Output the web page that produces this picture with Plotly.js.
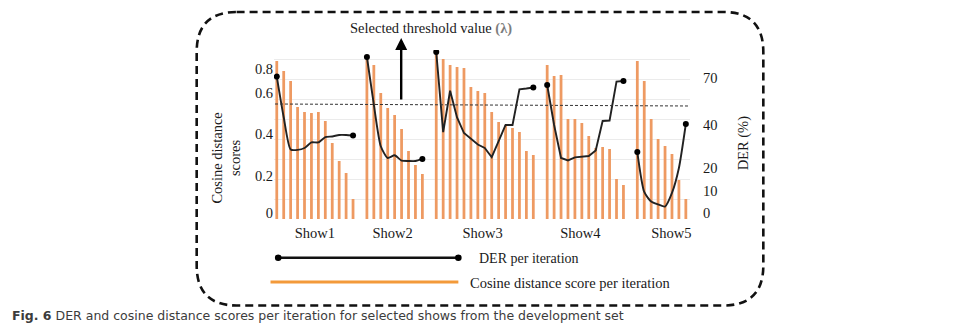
<!DOCTYPE html>
<html>
<head>
<meta charset="utf-8">
<script src="https://cdn.plot.ly/plotly-3.0.1.min.js"></script>
<style>html,body{margin:0;padding:0;background:#fff;}#chart{width:965px;height:324px;}</style>
</head>
<body>
<div id="chart"></div>
<script>
// ---------- data ----------
const showNames = ['Show1', 'Show2', 'Show3', 'Show4', 'Show5'];

// cosine distance score per iteration (bars)
const cosShow1 = [0.79, 0.74, 0.69, 0.56, 0.535, 0.53, 0.535, 0.49, 0.38, 0.29, 0.23, 0.10];
const cosShow2 = [0.80, 0.77, 0.63, 0.555, 0.52, 0.45, 0.34, 0.27, 0.225];
const cosShow3 = [0.825, 0.80, 0.77, 0.76, 0.755, 0.66, 0.64, 0.63, 0.535, 0.485, 0.47, 0.455, 0.435, 0.34, 0.32];
const cosShow4 = [0.77, 0.715, 0.72, 0.50, 0.50, 0.48, 0.415, 0.355, 0.36, 0.35, 0.20, 0.17];
const cosShow5 = [0.79, 0.69, 0.50, 0.40, 0.365, 0.325, 0.195, 0.10];

// DER (%) per iteration (lines)
const derShow1 = [70.9, 49.7, 32.9, 32.7, 33.7, 36.6, 36.6, 39.4, 39.7, 40.5, 40.5, 40.2];
const derShow2 = [81.1, 56.3, 34.6, 28.5, 29.9, 27.1, 26.9, 26.9, 28.0];
const derShow3 = [83.7, 42.0, 63.5, 49.6, 41.5, 38.4, 35.5, 33.7, 28.9, 37.3, 45.7, 45.7, 64.3, 64.7, 65.2];
const derShow4 = [66.5, 45.7, 28.5, 27.2, 28.8, 29.3, 29.5, 32.4, 47.8, 48.0, 68.3, 68.6];
const derShow5 = [31.6, 10.8, 5.8, 4.3, 3.2, 10.3, 23.3, 46.2];

const thresholdValue = 0.57;   // selected threshold (lambda), on the cosine axis

// tick labels
const leftTickText  = ['0', '0.2', '0.4', '0.6', '0.8'];
const leftTickVals  = [0.0285, 0.215, 0.4235, 0.6285, 0.75];
const rightTickText = ['0', '10', '20', '40', '70'];
const rightTickVals = [0, 11.3, 23.1, 45.7, 70];
const showTickVals  = [5.5, 16.7, 29.7, 43.8, 56.9];

// ---------- layout helpers ----------
const W = 965, H = 324;
const ml = 273.5, mr = 274.5, mt = 50, mb = 105;
const pw = W - ml - mr, ph = H - mt - mb;
const px = X => (X - ml) / pw;
const py = Y => (H - mb - Y) / ph;

const cosSeries = [cosShow1, cosShow2, cosShow3, cosShow4, cosShow5];
const derSeries = [derShow1, derShow2, derShow3, derShow4, derShow5];
const lineShapes = ['spline', 'spline', 'linear', 'linear', 'spline'];

const serif = 'Liberation Serif, Times New Roman, serif';
const barColor = '#EE9A62';
const lineColor = '#222';

// slot positions: one empty slot between shows
const slots = [];
let start = 0;
cosSeries.forEach(s => { slots.push(s.map((_, i) => start + i)); start += s.length + 1; });

const traces = [];
traces.push({
  type: 'bar',
  x: [].concat(...slots),
  y: [].concat(...cosSeries),
  width: 0.4,
  marker: {color: barColor, line: {width: 0}},
  yaxis: 'y',
  showlegend: false,
  hoverinfo: 'skip'
});
derSeries.forEach((d, k) => {
  traces.push({
    type: 'scatter',
    mode: 'lines+markers',
    x: slots[k],
    y: d,
    yaxis: 'y2',
    line: {color: lineColor, width: 1.9, shape: lineShapes[k], smoothing: 0.6},
    marker: {color: '#000', opacity: 1, line: {width: 0},
             size: d.map((_, i) => (i === 0 || i === d.length - 1) ? 6 : 0)},
    showlegend: false,
    hoverinfo: 'skip'
  });
});

// rounded dashed frame
const L = 196, R = 764, T = 12, B = 305.5, r = 40;
const framePath = [
  `M${px(L + r)},${py(T)}`, `L${px(R - r)},${py(T)}`, `Q${px(R)},${py(T)} ${px(R)},${py(T + r)}`,
  `L${px(R)},${py(B - r)}`, `Q${px(R)},${py(B)} ${px(R - r)},${py(B)}`,
  `L${px(L + r)},${py(B)}`, `Q${px(L)},${py(B)} ${px(L)},${py(B - r)}`,
  `L${px(L)},${py(T + r)}`, `Q${px(L)},${py(T)} ${px(L + r)},${py(T)}`, 'Z'
].join(' ');

const shapes = [
  {type: 'path', xref: 'paper', yref: 'paper', path: framePath,
   line: {color: '#111', width: 2.6, dash: '8px,5px'}, layer: 'above'},
  {type: 'line', xref: 'paper', yref: 'y', x0: px(274.5), x1: 1, y0: thresholdValue + 0.005, y1: thresholdValue - 0.005,
   line: {color: '#333', width: 1, dash: '3px,2px'}, layer: 'above'},
  // legend samples
  {type: 'line', xref: 'paper', yref: 'paper', x0: px(277.7), x1: px(458.3), y0: py(257.7), y1: py(257.7),
   line: {color: '#111', width: 2.6}},
  {type: 'circle', xref: 'paper', yref: 'paper', x0: px(274.4), x1: px(281), y0: py(254.4), y1: py(261),
   fillcolor: '#000', line: {width: 0}},
  {type: 'circle', xref: 'paper', yref: 'paper', x0: px(455), x1: px(461.6), y0: py(254.4), y1: py(261),
   fillcolor: '#000', line: {width: 0}},
  {type: 'line', xref: 'paper', yref: 'paper', x0: px(270), x1: px(458.3), y0: py(282), y1: py(282),
   line: {color: '#F39A3A', width: 3}}
];

const annotations = [
  {xref: 'paper', yref: 'paper', x: px(401), y: py(38), ax: 0, ay: 63, text: '', showarrow: true,
   arrowhead: 2, arrowsize: 1, arrowwidth: 2.4, arrowcolor: '#000', standoff: 0},
  {xref: 'paper', yref: 'paper', x: px(348), y: py(28.5), xanchor: 'left', yanchor: 'middle', showarrow: false,
   text: 'Selected threshold value <span style="color:#7d7d7d"><b>(λ)</b></span>',
   font: {family: serif, size: 14.5, color: '#1a1a1a'}},
  {xref: 'paper', yref: 'paper', x: px(225), y: py(158), xanchor: 'center', yanchor: 'middle', showarrow: false,
   textangle: -90, text: 'Cosine distance<br>scores', font: {family: serif, size: 14.5, color: '#1a1a1a'}},
  {xref: 'paper', yref: 'paper', x: px(744), y: py(143), xanchor: 'center', yanchor: 'middle', showarrow: false,
   textangle: -90, text: 'DER (%)', font: {family: serif, size: 14.5, color: '#1a1a1a'}},
  {xref: 'paper', yref: 'paper', x: px(476.5), y: py(258), xanchor: 'left', yanchor: 'middle', showarrow: false,
   text: 'DER per iteration', font: {family: serif, size: 14, color: '#1a1a1a'}},
  {xref: 'paper', yref: 'paper', x: px(467.5), y: py(283), xanchor: 'left', yanchor: 'middle', showarrow: false,
   text: 'Cosine distance score per iteration', font: {family: serif, size: 14.5, color: '#1a1a1a'}},
  {xref: 'paper', yref: 'paper', x: px(9), y: py(315), xanchor: 'left', yanchor: 'middle', showarrow: false,
   text: '<b>Fig. 6</b> DER and cosine distance scores per iteration for selected shows from the development set',
   font: {family: 'DejaVu Sans, Verdana, sans-serif', size: 12.5, color: '#3c3c3c'}}
];

const layout = {
  width: W, height: H,
  margin: {l: ml, r: mr, t: mt, b: mb, pad: 0},
  paper_bgcolor: '#fff', plot_bgcolor: '#fff',
  showlegend: false,
  bargap: 0.6,
  xaxis: {range: [-0.4, 59.6], tickmode: 'array', tickvals: showTickVals, ticktext: showNames,
          showgrid: false, zeroline: false, showline: false, ticks: '', ticklabelstandoff: 3,
          tickfont: {family: serif, size: 14.5, color: '#1a1a1a'}, fixedrange: true},
  yaxis: {range: [0, 0.845], tickmode: 'array', tickvals: leftTickVals, ticktext: leftTickText,
          showgrid: false, zeroline: false, showline: false, ticks: '',
          minor: {tickmode: 'linear', tick0: 0, dtick: 0.1, showgrid: true, gridcolor: '#ebebeb', gridwidth: 1, ticks: ''},
          tickfont: {family: serif, size: 14.5, color: '#1a1a1a'}, fixedrange: true},
  yaxis2: {range: [-3.28, 84.74], overlaying: 'y', side: 'right', tickmode: 'array',
           tickvals: rightTickVals, ticktext: rightTickText, showgrid: false, zeroline: false, showline: false,
           ticks: '', ticklabelstandoff: 12, tickfont: {family: serif, size: 14.5, color: '#1a1a1a'}, fixedrange: true},
  shapes: shapes,
  annotations: annotations
};

Plotly.newPlot('chart', traces, layout, {displayModeBar: false, staticPlot: true});
</script>
</body>
</html>
